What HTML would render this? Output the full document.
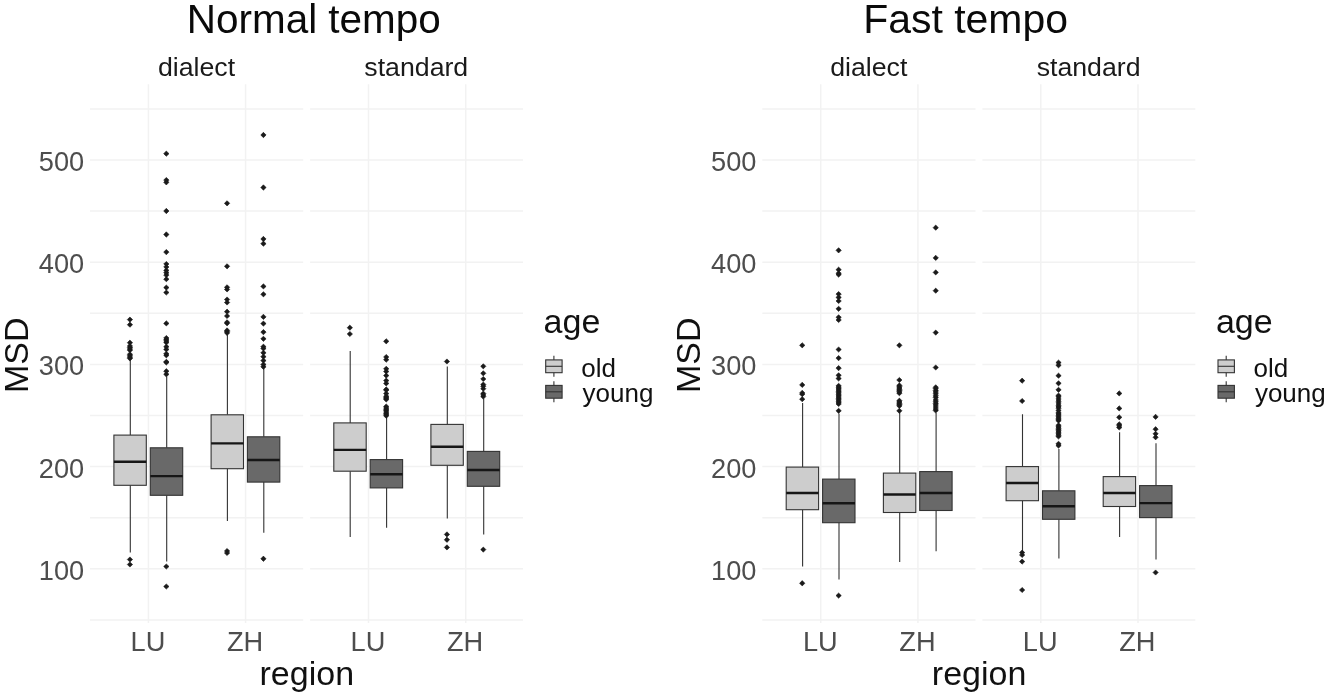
<!DOCTYPE html>
<html lang="en"><head><meta charset="utf-8"><title>MSD by region, age and tempo</title>
<style>
html,body{margin:0;padding:0;background:#fff;}
body{width:1328px;height:696px;overflow:hidden;}
svg{display:block;}
text{font-family:"Liberation Sans",Arial,Helvetica,sans-serif;font-kerning:none;}
.t{font-size:40.45px;fill:#0a0a0a;}
.s{font-size:26.7px;fill:#1a1a1a;}
.a{font-size:27.2px;fill:#4d4d4d;}
.x{font-size:34px;fill:#111;}
.l{font-size:26px;fill:#111;}
.w{stroke:#333;stroke-width:1.1;fill:none;}
.b{stroke:#333;stroke-width:1.1;}
.m{stroke:#161616;stroke-width:2.4;}
.o{fill:#1a1a1a;stroke:#1a1a1a;stroke-width:0.6;stroke-linejoin:round;}
</style></head>
<body>
<svg width="1328" height="696" viewBox="0 0 1328 696">
<rect width="1328" height="696" fill="#fff"/>
<g transform="translate(0.0,0)">
<g stroke="#f2f2f2" stroke-width="1.5" fill="none"><line x1="90.0" x2="303.2" y1="620.0" y2="620.0"/><line x1="90.0" x2="303.2" y1="568.8" y2="568.8"/><line x1="90.0" x2="303.2" y1="517.7" y2="517.7"/><line x1="90.0" x2="303.2" y1="466.6" y2="466.6"/><line x1="90.0" x2="303.2" y1="415.5" y2="415.5"/><line x1="90.0" x2="303.2" y1="364.4" y2="364.4"/><line x1="90.0" x2="303.2" y1="313.3" y2="313.3"/><line x1="90.0" x2="303.2" y1="262.2" y2="262.2"/><line x1="90.0" x2="303.2" y1="211.1" y2="211.1"/><line x1="90.0" x2="303.2" y1="160.0" y2="160.0"/><line x1="90.0" x2="303.2" y1="108.9" y2="108.9"/><line x1="148.4" x2="148.4" y1="84.2" y2="623.0"/><line x1="245.6" x2="245.6" y1="84.2" y2="623.0"/><line x1="310.1" x2="523.0" y1="620.0" y2="620.0"/><line x1="310.1" x2="523.0" y1="568.8" y2="568.8"/><line x1="310.1" x2="523.0" y1="517.7" y2="517.7"/><line x1="310.1" x2="523.0" y1="466.6" y2="466.6"/><line x1="310.1" x2="523.0" y1="415.5" y2="415.5"/><line x1="310.1" x2="523.0" y1="364.4" y2="364.4"/><line x1="310.1" x2="523.0" y1="313.3" y2="313.3"/><line x1="310.1" x2="523.0" y1="262.2" y2="262.2"/><line x1="310.1" x2="523.0" y1="211.1" y2="211.1"/><line x1="310.1" x2="523.0" y1="160.0" y2="160.0"/><line x1="310.1" x2="523.0" y1="108.9" y2="108.9"/><line x1="368.5" x2="368.5" y1="84.2" y2="623.0"/><line x1="465.7" x2="465.7" y1="84.2" y2="623.0"/></g>
<path d="M130.3 359.5V435.1M130.3 485.3V552.6" class="w"/>
<rect x="113.9" y="435.1" width="32.4" height="50.2" fill="#cdcdcd" class="b"/>
<line x1="113.9" x2="146.3" y1="461.8" y2="461.8" class="m"/>
<path d="M129.9 317.0L132.6 319.6L129.9 322.2L127.3 319.6ZM129.9 322.1L132.6 324.7L129.9 327.3L127.3 324.7ZM129.9 340.1L132.6 342.7L129.9 345.3L127.3 342.7ZM129.9 343.4L132.6 346.0L129.9 348.6L127.3 346.0ZM129.9 344.9L132.6 347.5L129.9 350.1L127.3 347.5ZM129.9 346.4L132.6 349.0L129.9 351.6L127.3 349.0ZM129.9 347.6L132.6 350.2L129.9 352.8L127.3 350.2ZM129.9 351.7L132.6 354.3L129.9 356.9L127.3 354.3ZM129.9 353.2L132.6 355.8L129.9 358.4L127.3 355.8ZM129.9 354.6L132.6 357.2L129.9 359.8L127.3 357.2ZM129.9 355.8L132.6 358.4L129.9 361.0L127.3 358.4ZM129.9 556.9L132.6 559.5L129.9 562.1L127.3 559.5ZM129.9 561.9L132.6 564.5L129.9 567.1L127.3 564.5Z" class="o"/>
<path d="M166.7 376.5V447.8M166.7 495.3V561.4" class="w"/>
<rect x="150.3" y="447.8" width="32.4" height="47.5" fill="#696969" class="b"/>
<line x1="150.3" x2="182.7" y1="476.1" y2="476.1" class="m"/>
<path d="M166.3 151.0L169.0 153.7L166.3 156.3L163.7 153.7ZM166.3 177.4L169.0 180.1L166.3 182.8L163.7 180.1ZM166.3 179.7L169.0 182.3L166.3 185.0L163.7 182.3ZM166.3 208.3L169.0 211.0L166.3 213.7L163.7 211.0ZM166.3 231.8L169.0 234.5L166.3 237.2L163.7 234.5ZM166.3 249.4L169.0 252.1L166.3 254.8L163.7 252.1ZM166.3 261.4L169.0 264.0L166.3 266.6L163.7 264.0ZM166.3 264.4L169.0 267.0L166.3 269.6L163.7 267.0ZM166.3 267.8L169.0 270.4L166.3 273.0L163.7 270.4ZM166.3 270.2L169.0 272.8L166.3 275.4L163.7 272.8ZM166.3 272.5L169.0 275.1L166.3 277.8L163.7 275.1ZM166.3 276.6L169.0 279.2L166.3 281.8L163.7 279.2ZM166.3 285.0L169.0 287.6L166.3 290.2L163.7 287.6ZM166.3 289.9L169.0 292.5L166.3 295.1L163.7 292.5ZM166.3 320.8L169.0 323.4L166.3 326.0L163.7 323.4ZM166.3 335.4L169.0 338.0L166.3 340.6L163.7 338.0ZM166.3 336.9L169.0 339.5L166.3 342.1L163.7 339.5ZM166.3 338.4L169.0 341.0L166.3 343.6L163.7 341.0ZM166.3 339.9L169.0 342.5L166.3 345.1L163.7 342.5ZM166.3 344.1L169.0 346.7L166.3 349.3L163.7 346.7ZM166.3 346.8L169.0 349.4L166.3 352.0L163.7 349.4ZM166.3 351.2L169.0 353.8L166.3 356.4L163.7 353.8ZM166.3 352.7L169.0 355.3L166.3 357.9L163.7 355.3ZM166.3 359.2L169.0 361.8L166.3 364.4L163.7 361.8ZM166.3 359.9L169.0 362.5L166.3 365.1L163.7 362.5ZM166.3 368.6L169.0 371.2L166.3 373.8L163.7 371.2ZM166.3 371.7L169.0 374.3L166.3 376.9L163.7 374.3ZM166.3 563.9L169.0 566.5L166.3 569.1L163.7 566.5ZM166.3 583.9L169.0 586.5L166.3 589.1L163.7 586.5Z" class="o"/>
<path d="M227.4 335.0V414.8M227.4 468.6V520.9" class="w"/>
<rect x="211.1" y="414.8" width="32.4" height="53.9" fill="#cdcdcd" class="b"/>
<line x1="211.1" x2="243.4" y1="443.4" y2="443.4" class="m"/>
<path d="M227.1 200.7L229.7 203.3L227.1 206.0L224.4 203.3ZM227.1 263.7L229.7 266.3L227.1 268.9L224.4 266.3ZM227.1 284.7L229.7 287.3L227.1 289.9L224.4 287.3ZM227.1 286.8L229.7 289.4L227.1 292.0L224.4 289.4ZM227.1 296.9L229.7 299.5L227.1 302.1L224.4 299.5ZM227.1 299.9L229.7 302.5L227.1 305.1L224.4 302.5ZM227.1 309.1L229.7 311.7L227.1 314.3L224.4 311.7ZM227.1 313.4L229.7 316.0L227.1 318.6L224.4 316.0ZM227.1 319.7L229.7 322.3L227.1 324.9L224.4 322.3ZM227.1 320.7L229.7 323.3L227.1 325.9L224.4 323.3ZM227.1 327.8L229.7 330.4L227.1 333.0L224.4 330.4ZM227.1 329.0L229.7 331.6L227.1 334.2L224.4 331.6ZM227.1 330.2L229.7 332.9L227.1 335.5L224.4 332.9ZM227.1 548.4L229.7 551.0L227.1 553.6L224.4 551.0ZM227.1 550.4L229.7 553.0L227.1 555.6L224.4 553.0Z" class="o"/>
<path d="M263.8 368.5V436.8M263.8 482.1V532.7" class="w"/>
<rect x="247.4" y="436.8" width="32.4" height="45.3" fill="#696969" class="b"/>
<line x1="247.4" x2="279.8" y1="460.0" y2="460.0" class="m"/>
<path d="M263.4 132.3L266.1 135.0L263.4 137.7L260.8 135.0ZM263.4 184.8L266.1 187.5L263.4 190.2L260.8 187.5ZM263.4 236.3L266.1 239.0L263.4 241.7L260.8 239.0ZM263.4 241.0L266.1 243.7L263.4 246.3L260.8 243.7ZM263.4 283.8L266.1 286.4L263.4 289.0L260.8 286.4ZM263.4 291.7L266.1 294.3L263.4 296.9L260.8 294.3ZM263.4 314.2L266.1 316.9L263.4 319.5L260.8 316.9ZM263.4 321.0L266.1 323.6L263.4 326.2L260.8 323.6ZM263.4 329.5L266.1 332.1L263.4 334.8L260.8 332.1ZM263.4 336.2L266.1 338.8L263.4 341.4L260.8 338.8ZM263.4 344.1L266.1 346.7L263.4 349.3L260.8 346.7ZM263.4 345.9L266.1 348.5L263.4 351.1L260.8 348.5ZM263.4 350.2L266.1 352.8L263.4 355.4L260.8 352.8ZM263.4 354.1L266.1 356.7L263.4 359.3L260.8 356.7ZM263.4 358.0L266.1 360.6L263.4 363.2L260.8 360.6ZM263.4 361.9L266.1 364.5L263.4 367.1L260.8 364.5ZM263.4 364.2L266.1 366.8L263.4 369.4L260.8 366.8ZM263.4 556.1L266.1 558.8L263.4 561.4L260.8 558.8Z" class="o"/>
<path d="M350.2 351.0V422.9M350.2 471.2V537.1" class="w"/>
<rect x="333.8" y="422.9" width="32.4" height="48.3" fill="#cdcdcd" class="b"/>
<line x1="333.8" x2="366.2" y1="449.9" y2="449.9" class="m"/>
<path d="M349.8 325.1L352.5 327.7L349.8 330.3L347.2 327.7ZM349.8 331.4L352.5 334.0L349.8 336.6L347.2 334.0Z" class="o"/>
<path d="M386.6 418.0V459.6M386.6 487.9V527.7" class="w"/>
<rect x="370.2" y="459.6" width="32.4" height="28.3" fill="#696969" class="b"/>
<line x1="370.2" x2="402.6" y1="474.3" y2="474.3" class="m"/>
<path d="M386.2 338.7L388.9 341.3L386.2 343.9L383.6 341.3ZM386.2 354.4L388.9 357.0L386.2 359.6L383.6 357.0ZM386.2 357.1L388.9 359.7L386.2 362.3L383.6 359.7ZM386.2 366.2L388.9 368.8L386.2 371.4L383.6 368.8ZM386.2 368.9L388.9 371.5L386.2 374.1L383.6 371.5ZM386.2 373.0L388.9 375.6L386.2 378.2L383.6 375.6ZM386.2 378.0L388.9 380.6L386.2 383.2L383.6 380.6ZM386.2 380.8L388.9 383.4L386.2 386.0L383.6 383.4ZM386.2 386.8L388.9 389.4L386.2 392.0L383.6 389.4ZM386.2 387.5L388.9 390.1L386.2 392.8L383.6 390.1ZM386.2 391.0L388.9 393.6L386.2 396.2L383.6 393.6ZM386.2 393.7L388.9 396.3L386.2 398.9L383.6 396.3ZM386.2 394.8L388.9 397.4L386.2 400.0L383.6 397.4ZM386.2 395.9L388.9 398.5L386.2 401.1L383.6 398.5ZM386.2 396.9L388.9 399.5L386.2 402.1L383.6 399.5ZM386.2 403.9L388.9 406.5L386.2 409.1L383.6 406.5ZM386.2 405.4L388.9 408.0L386.2 410.6L383.6 408.0ZM386.2 406.7L388.9 409.3L386.2 411.9L383.6 409.3ZM386.2 407.9L388.9 410.5L386.2 413.1L383.6 410.5ZM386.2 409.4L388.9 412.0L386.2 414.6L383.6 412.0ZM386.2 410.8L388.9 413.4L386.2 416.0L383.6 413.4ZM386.2 412.2L388.9 414.8L386.2 417.4L383.6 414.8ZM386.2 413.2L388.9 415.8L386.2 418.4L383.6 415.8Z" class="o"/>
<path d="M447.3 366.6V424.4M447.3 465.3V518.6" class="w"/>
<rect x="430.9" y="424.4" width="32.4" height="40.9" fill="#cdcdcd" class="b"/>
<line x1="430.9" x2="463.3" y1="446.8" y2="446.8" class="m"/>
<path d="M446.9 358.9L449.6 361.5L446.9 364.1L444.3 361.5ZM446.9 531.8L449.6 534.4L446.9 537.0L444.3 534.4ZM446.9 537.1L449.6 539.8L446.9 542.4L444.3 539.8ZM446.9 544.8L449.6 547.4L446.9 550.0L444.3 547.4Z" class="o"/>
<path d="M483.7 399.0V451.4M483.7 486.3V534.4" class="w"/>
<rect x="467.3" y="451.4" width="32.4" height="34.9" fill="#696969" class="b"/>
<line x1="467.3" x2="499.7" y1="470.0" y2="470.0" class="m"/>
<path d="M483.3 363.7L485.9 366.3L483.3 368.9L480.7 366.3ZM483.3 370.7L485.9 373.3L483.3 375.9L480.7 373.3ZM483.3 376.4L485.9 379.0L483.3 381.6L480.7 379.0ZM483.3 381.9L485.9 384.5L483.3 387.1L480.7 384.5ZM483.3 383.6L485.9 386.2L483.3 388.8L480.7 386.2ZM483.3 386.1L485.9 388.7L483.3 391.3L480.7 388.7ZM483.3 390.9L485.9 393.5L483.3 396.1L480.7 393.5ZM483.3 392.4L485.9 395.0L483.3 397.6L480.7 395.0ZM483.3 394.0L485.9 396.6L483.3 399.2L480.7 396.6ZM483.3 547.0L485.9 549.6L483.3 552.2L480.7 549.6Z" class="o"/>
<text x="313.8" y="33.2" class="t" text-anchor="middle">Normal tempo</text>
<text x="196.5" y="76.4" class="s" text-anchor="middle">dialect</text>
<text x="416.3" y="76.4" class="s" text-anchor="middle">standard</text>
<text x="84.2" y="579.7" class="a" text-anchor="end">100</text>
<text x="84.2" y="477.5" class="a" text-anchor="end">200</text>
<text x="84.2" y="375.3" class="a" text-anchor="end">300</text>
<text x="84.2" y="273.1" class="a" text-anchor="end">400</text>
<text x="84.2" y="170.9" class="a" text-anchor="end">500</text>
<text x="148.0" y="651.3" class="a" text-anchor="middle">LU</text>
<text x="245.1" y="651.3" class="a" text-anchor="middle">ZH</text>
<text x="367.9" y="651.3" class="a" text-anchor="middle">LU</text>
<text x="465.0" y="651.3" class="a" text-anchor="middle">ZH</text>
<text x="306.8" y="684.6" class="x" text-anchor="middle">region</text>
<text transform="translate(27.9,355.2) rotate(-90)" class="x" text-anchor="middle">MSD</text>
<text x="543.6" y="332.5" class="x">age</text>
<path d="M553.9 355.8V376.8" class="w"/>
<rect x="545.7" y="359.9" width="16.4" height="12.8" fill="#cdcdcd" class="b"/>
<line x1="545.7" x2="562.1" y1="366.3" y2="366.3" class="w"/>
<path d="M553.9 381.3V402.3" class="w"/>
<rect x="545.7" y="385.4" width="16.4" height="12.8" fill="#696969" class="b"/>
<line x1="545.7" x2="562.1" y1="391.8" y2="391.8" class="w"/>
<text x="581.3" y="376.8" class="l">old</text>
<text x="582.6" y="401.8" class="l">young</text>
</g>
<g transform="translate(672.3,0)">
<g stroke="#f2f2f2" stroke-width="1.5" fill="none"><line x1="90.0" x2="303.2" y1="620.0" y2="620.0"/><line x1="90.0" x2="303.2" y1="568.8" y2="568.8"/><line x1="90.0" x2="303.2" y1="517.7" y2="517.7"/><line x1="90.0" x2="303.2" y1="466.6" y2="466.6"/><line x1="90.0" x2="303.2" y1="415.5" y2="415.5"/><line x1="90.0" x2="303.2" y1="364.4" y2="364.4"/><line x1="90.0" x2="303.2" y1="313.3" y2="313.3"/><line x1="90.0" x2="303.2" y1="262.2" y2="262.2"/><line x1="90.0" x2="303.2" y1="211.1" y2="211.1"/><line x1="90.0" x2="303.2" y1="160.0" y2="160.0"/><line x1="90.0" x2="303.2" y1="108.9" y2="108.9"/><line x1="148.4" x2="148.4" y1="84.2" y2="623.0"/><line x1="245.6" x2="245.6" y1="84.2" y2="623.0"/><line x1="310.1" x2="523.0" y1="620.0" y2="620.0"/><line x1="310.1" x2="523.0" y1="568.8" y2="568.8"/><line x1="310.1" x2="523.0" y1="517.7" y2="517.7"/><line x1="310.1" x2="523.0" y1="466.6" y2="466.6"/><line x1="310.1" x2="523.0" y1="415.5" y2="415.5"/><line x1="310.1" x2="523.0" y1="364.4" y2="364.4"/><line x1="310.1" x2="523.0" y1="313.3" y2="313.3"/><line x1="310.1" x2="523.0" y1="262.2" y2="262.2"/><line x1="310.1" x2="523.0" y1="211.1" y2="211.1"/><line x1="310.1" x2="523.0" y1="160.0" y2="160.0"/><line x1="310.1" x2="523.0" y1="108.9" y2="108.9"/><line x1="368.5" x2="368.5" y1="84.2" y2="623.0"/><line x1="465.7" x2="465.7" y1="84.2" y2="623.0"/></g>
<path d="M130.3 403.0V467.1M130.3 509.7V566.4" class="w"/>
<rect x="113.9" y="467.1" width="32.4" height="42.6" fill="#cdcdcd" class="b"/>
<line x1="113.9" x2="146.3" y1="493.0" y2="493.0" class="m"/>
<path d="M129.9 342.7L132.6 345.3L129.9 347.9L127.3 345.3ZM129.9 382.2L132.6 384.9L129.9 387.5L127.3 384.9ZM129.9 390.2L132.6 392.9L129.9 395.5L127.3 392.9ZM129.9 391.6L132.6 394.2L129.9 396.8L127.3 394.2ZM129.9 396.6L132.6 399.2L129.9 401.8L127.3 399.2ZM129.9 580.6L132.6 583.3L129.9 585.9L127.3 583.3Z" class="o"/>
<path d="M166.7 413.5V479.1M166.7 522.6V579.6" class="w"/>
<rect x="150.3" y="479.1" width="32.4" height="43.6" fill="#696969" class="b"/>
<line x1="150.3" x2="182.7" y1="503.2" y2="503.2" class="m"/>
<path d="M166.3 247.7L169.0 250.3L166.3 253.0L163.7 250.3ZM166.3 267.1L169.0 269.7L166.3 272.3L163.7 269.7ZM166.3 270.7L169.0 273.3L166.3 275.9L163.7 273.3ZM166.3 272.0L169.0 274.6L166.3 277.2L163.7 274.6ZM166.3 291.5L169.0 294.1L166.3 296.8L163.7 294.1ZM166.3 294.8L169.0 297.4L166.3 300.0L163.7 297.4ZM166.3 298.4L169.0 301.0L166.3 303.6L163.7 301.0ZM166.3 306.2L169.0 308.8L166.3 311.4L163.7 308.8ZM166.3 314.7L169.0 317.3L166.3 319.9L163.7 317.3ZM166.3 317.4L169.0 320.0L166.3 322.6L163.7 320.0ZM166.3 346.9L169.0 349.5L166.3 352.1L163.7 349.5ZM166.3 355.5L169.0 358.1L166.3 360.8L163.7 358.1ZM166.3 365.5L169.0 368.1L166.3 370.8L163.7 368.1ZM166.3 372.7L169.0 375.3L166.3 377.9L163.7 375.3ZM166.3 375.9L169.0 378.5L166.3 381.1L163.7 378.5ZM166.3 408.2L169.0 410.8L166.3 413.4L163.7 410.8ZM166.3 593.0L169.0 595.6L166.3 598.2L163.7 595.6ZM166.3 383.2L169.0 385.8L166.3 388.4L163.7 385.8ZM166.3 384.6L169.0 387.2L166.3 389.8L163.7 387.2ZM166.3 386.0L169.0 388.6L166.3 391.2L163.7 388.6ZM166.3 387.4L169.0 390.0L166.3 392.6L163.7 390.0ZM166.3 388.8L169.0 391.4L166.3 394.0L163.7 391.4ZM166.3 390.2L169.0 392.8L166.3 395.4L163.7 392.8ZM166.3 391.6L169.0 394.2L166.3 396.8L163.7 394.2ZM166.3 393.0L169.0 395.6L166.3 398.2L163.7 395.6ZM166.3 394.4L169.0 397.0L166.3 399.6L163.7 397.0ZM166.3 395.8L169.0 398.4L166.3 401.0L163.7 398.4ZM166.3 397.2L169.0 399.8L166.3 402.4L163.7 399.8ZM166.3 398.6L169.0 401.2L166.3 403.8L163.7 401.2ZM166.3 400.0L169.0 402.6L166.3 405.2L163.7 402.6ZM166.3 401.4L169.0 404.0L166.3 406.6L163.7 404.0Z" class="o"/>
<path d="M227.4 413.0V473.1M227.4 512.5V562.1" class="w"/>
<rect x="211.1" y="473.1" width="32.4" height="39.4" fill="#cdcdcd" class="b"/>
<line x1="211.1" x2="243.4" y1="494.5" y2="494.5" class="m"/>
<path d="M227.1 342.7L229.7 345.3L227.1 347.9L224.4 345.3ZM227.1 377.4L229.7 380.0L227.1 382.6L224.4 380.0ZM227.1 408.2L229.7 410.8L227.1 413.4L224.4 410.8ZM227.1 382.8L229.7 385.4L227.1 388.0L224.4 385.4ZM227.1 384.1L229.7 386.7L227.1 389.3L224.4 386.7ZM227.1 385.4L229.7 388.0L227.1 390.6L224.4 388.0ZM227.1 386.7L229.7 389.3L227.1 391.9L224.4 389.3ZM227.1 388.0L229.7 390.6L227.1 393.2L224.4 390.6ZM227.1 389.2L229.7 391.9L227.1 394.5L224.4 391.9ZM227.1 390.6L229.7 393.2L227.1 395.8L224.4 393.2ZM227.1 398.1L229.7 400.7L227.1 403.3L224.4 400.7ZM227.1 399.4L229.7 402.0L227.1 404.6L224.4 402.0ZM227.1 400.7L229.7 403.3L227.1 405.9L224.4 403.3ZM227.1 402.0L229.7 404.6L227.1 407.2L224.4 404.6ZM227.1 403.2L229.7 405.9L227.1 408.5L224.4 405.9Z" class="o"/>
<path d="M263.8 412.8V471.6M263.8 510.5V551.2" class="w"/>
<rect x="247.4" y="471.6" width="32.4" height="38.9" fill="#696969" class="b"/>
<line x1="247.4" x2="279.8" y1="493.0" y2="493.0" class="m"/>
<path d="M263.4 225.0L266.1 227.7L263.4 230.3L260.8 227.7ZM263.4 255.2L266.1 257.9L263.4 260.5L260.8 257.9ZM263.4 269.8L266.1 272.4L263.4 275.0L260.8 272.4ZM263.4 288.1L266.1 290.7L263.4 293.3L260.8 290.7ZM263.4 330.0L266.1 332.6L263.4 335.2L260.8 332.6ZM263.4 364.9L266.1 367.5L263.4 370.1L260.8 367.5ZM263.4 384.7L266.1 387.3L263.4 389.9L260.8 387.3ZM263.4 386.0L266.1 388.6L263.4 391.2L260.8 388.6ZM263.4 387.9L266.1 390.5L263.4 393.1L260.8 390.5ZM263.4 389.4L266.1 392.0L263.4 394.6L260.8 392.0ZM263.4 391.2L266.1 393.8L263.4 396.4L260.8 393.8ZM263.4 393.2L266.1 395.9L263.4 398.5L260.8 395.9ZM263.4 395.0L266.1 397.6L263.4 400.2L260.8 397.6ZM263.4 397.4L266.1 400.0L263.4 402.6L260.8 400.0ZM263.4 399.2L266.1 401.8L263.4 404.4L260.8 401.8ZM263.4 400.9L266.1 403.5L263.4 406.1L260.8 403.5ZM263.4 402.4L266.1 405.0L263.4 407.6L260.8 405.0ZM263.4 404.4L266.1 407.0L263.4 409.6L260.8 407.0ZM263.4 406.4L266.1 409.0L263.4 411.6L260.8 409.0ZM263.4 407.9L266.1 410.5L263.4 413.1L260.8 410.5Z" class="o"/>
<path d="M350.2 414.2V466.6M350.2 500.6V551.5" class="w"/>
<rect x="333.8" y="466.6" width="32.4" height="34.1" fill="#cdcdcd" class="b"/>
<line x1="333.8" x2="366.2" y1="483.0" y2="483.0" class="m"/>
<path d="M349.8 378.1L352.5 380.7L349.8 383.3L347.2 380.7ZM349.8 398.4L352.5 401.0L349.8 403.6L347.2 401.0ZM349.8 550.0L352.5 552.6L349.8 555.2L347.2 552.6ZM349.8 552.4L352.5 555.0L349.8 557.6L347.2 555.0ZM349.8 559.0L352.5 561.6L349.8 564.2L347.2 561.6ZM349.8 587.4L352.5 590.0L349.8 592.6L347.2 590.0Z" class="o"/>
<path d="M386.6 449.0V490.8M386.6 519.2V558.6" class="w"/>
<rect x="370.2" y="490.8" width="32.4" height="28.5" fill="#696969" class="b"/>
<line x1="370.2" x2="402.6" y1="506.3" y2="506.3" class="m"/>
<path d="M386.2 360.0L388.9 362.6L386.2 365.2L383.6 362.6ZM386.2 362.7L388.9 365.3L386.2 367.9L383.6 365.3ZM386.2 373.1L388.9 375.7L386.2 378.3L383.6 375.7ZM386.2 380.7L388.9 383.3L386.2 385.9L383.6 383.3ZM386.2 387.2L388.9 389.8L386.2 392.4L383.6 389.8ZM386.2 392.9L388.9 395.5L386.2 398.1L383.6 395.5ZM386.2 394.2L388.9 396.8L386.2 399.4L383.6 396.8ZM386.2 396.4L388.9 399.0L386.2 401.6L383.6 399.0ZM386.2 398.5L388.9 401.1L386.2 403.8L383.6 401.1ZM386.2 400.4L388.9 403.0L386.2 405.6L383.6 403.0ZM386.2 402.5L388.9 405.1L386.2 407.8L383.6 405.1ZM386.2 404.0L388.9 406.6L386.2 409.2L383.6 406.6ZM386.2 405.5L388.9 408.1L386.2 410.8L383.6 408.1ZM386.2 407.8L388.9 410.4L386.2 413.0L383.6 410.4ZM386.2 410.1L388.9 412.7L386.2 415.3L383.6 412.7ZM386.2 411.4L388.9 414.0L386.2 416.6L383.6 414.0ZM386.2 412.6L388.9 415.2L386.2 417.8L383.6 415.2ZM386.2 414.1L388.9 416.7L386.2 419.3L383.6 416.7ZM386.2 415.6L388.9 418.2L386.2 420.8L383.6 418.2ZM386.2 416.9L388.9 419.5L386.2 422.1L383.6 419.5ZM386.2 418.1L388.9 420.7L386.2 423.3L383.6 420.7ZM386.2 422.7L388.9 425.3L386.2 427.9L383.6 425.3ZM386.2 424.1L388.9 426.7L386.2 429.3L383.6 426.7ZM386.2 425.5L388.9 428.1L386.2 430.8L383.6 428.1ZM386.2 426.9L388.9 429.5L386.2 432.1L383.6 429.5ZM386.2 428.2L388.9 430.9L386.2 433.5L383.6 430.9ZM386.2 429.7L388.9 432.3L386.2 434.9L383.6 432.3ZM386.2 431.1L388.9 433.7L386.2 436.3L383.6 433.7ZM386.2 432.5L388.9 435.1L386.2 437.8L383.6 435.1ZM386.2 433.9L388.9 436.5L386.2 439.1L383.6 436.5ZM386.2 441.2L388.9 443.8L386.2 446.4L383.6 443.8ZM386.2 443.0L388.9 445.6L386.2 448.2L383.6 445.6Z" class="o"/>
<path d="M447.3 432.2V476.6M447.3 506.5V536.9" class="w"/>
<rect x="430.9" y="476.6" width="32.4" height="29.9" fill="#cdcdcd" class="b"/>
<line x1="430.9" x2="463.3" y1="493.0" y2="493.0" class="m"/>
<path d="M446.9 390.8L449.6 393.4L446.9 396.0L444.3 393.4ZM446.9 405.8L449.6 408.4L446.9 411.0L444.3 408.4ZM446.9 414.7L449.6 417.3L446.9 419.9L444.3 417.3ZM446.9 421.7L449.6 424.3L446.9 426.9L444.3 424.3ZM446.9 423.2L449.6 425.8L446.9 428.4L444.3 425.8ZM446.9 424.9L449.6 427.5L446.9 430.1L444.3 427.5Z" class="o"/>
<path d="M483.7 443.2V485.6M483.7 517.6V559.5" class="w"/>
<rect x="467.3" y="485.6" width="32.4" height="32.0" fill="#696969" class="b"/>
<line x1="467.3" x2="499.7" y1="503.1" y2="503.1" class="m"/>
<path d="M483.3 414.2L485.9 416.9L483.3 419.5L480.7 416.9ZM483.3 426.6L485.9 429.2L483.3 431.8L480.7 429.2ZM483.3 431.2L485.9 433.8L483.3 436.4L480.7 433.8ZM483.3 434.7L485.9 437.3L483.3 439.9L480.7 437.3ZM483.3 569.9L485.9 572.5L483.3 575.1L480.7 572.5Z" class="o"/>
<text x="293.3" y="33.2" class="t" text-anchor="middle" style="font-size:40.95px">Fast tempo</text>
<text x="196.5" y="76.4" class="s" text-anchor="middle">dialect</text>
<text x="416.3" y="76.4" class="s" text-anchor="middle">standard</text>
<text x="84.2" y="579.7" class="a" text-anchor="end">100</text>
<text x="84.2" y="477.5" class="a" text-anchor="end">200</text>
<text x="84.2" y="375.3" class="a" text-anchor="end">300</text>
<text x="84.2" y="273.1" class="a" text-anchor="end">400</text>
<text x="84.2" y="170.9" class="a" text-anchor="end">500</text>
<text x="148.0" y="651.3" class="a" text-anchor="middle">LU</text>
<text x="245.1" y="651.3" class="a" text-anchor="middle">ZH</text>
<text x="367.9" y="651.3" class="a" text-anchor="middle">LU</text>
<text x="465.0" y="651.3" class="a" text-anchor="middle">ZH</text>
<text x="306.8" y="684.6" class="x" text-anchor="middle">region</text>
<text transform="translate(27.9,355.2) rotate(-90)" class="x" text-anchor="middle">MSD</text>
<text x="543.6" y="332.5" class="x">age</text>
<path d="M553.9 355.8V376.8" class="w"/>
<rect x="545.7" y="359.9" width="16.4" height="12.8" fill="#cdcdcd" class="b"/>
<line x1="545.7" x2="562.1" y1="366.3" y2="366.3" class="w"/>
<path d="M553.9 381.3V402.3" class="w"/>
<rect x="545.7" y="385.4" width="16.4" height="12.8" fill="#696969" class="b"/>
<line x1="545.7" x2="562.1" y1="391.8" y2="391.8" class="w"/>
<text x="581.3" y="376.8" class="l">old</text>
<text x="582.6" y="401.8" class="l">young</text>
</g>
</svg>
</body></html>
